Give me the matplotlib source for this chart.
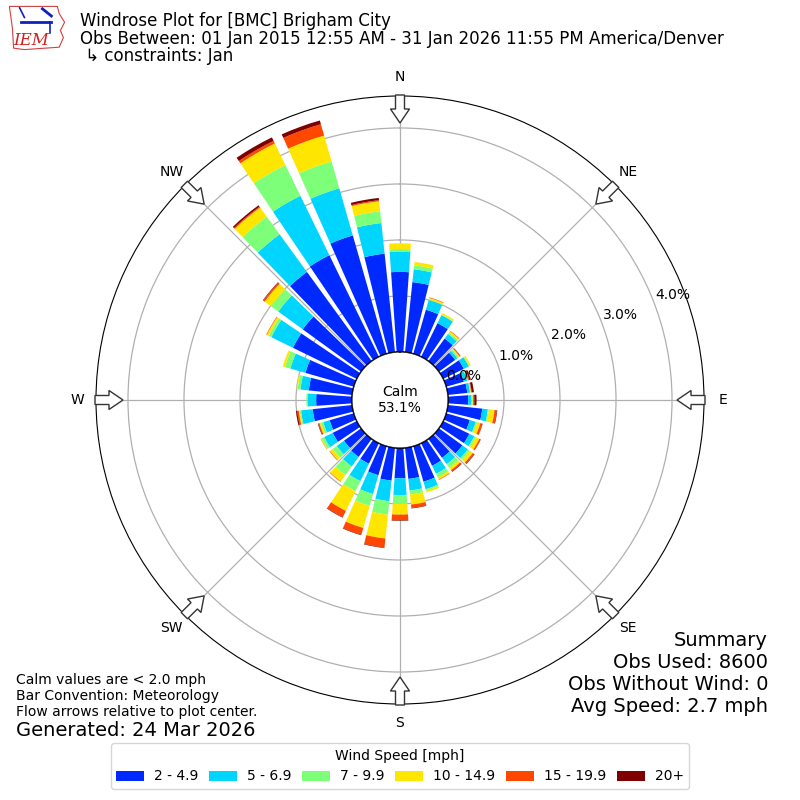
import numpy as np
import matplotlib
matplotlib.use('Agg')
import matplotlib.pyplot as plt
from matplotlib.patches import Circle, FancyArrow, Polygon, Patch

# wind direction bins (deg, meteorological) and frequency (%) per speed bin
directions = np.arange(0, 360, 10)
speed_labels = ['2 - 4.9', '5 - 6.9', '7 - 9.9', '10 - 14.9', '15 - 19.9', '20+']

s2_5 = [1.43, 1.26, 0.82, 0.67, 0.50, 0.36, 0.41, 0.33, 0.35, 0.36, 0.62, 0.44,
        0.52, 0.52, 0.42, 0.45, 0.66, 0.56, 0.54, 0.59, 0.54, 0.41, 0.40, 0.38,
        0.48, 0.45, 0.71, 0.64, 0.78, 0.90, 1.27, 1.29, 1.97, 2.02, 2.20, 1.77]
s5_7 = [0.36, 0.23, 0.18, 0.16, 0.10, 0.05, 0.10, 0.06, 0.05, 0.06, 0.10, 0.11,
        0.10, 0.12, 0.14, 0.16, 0.14, 0.21, 0.30, 0.37, 0.35, 0.345, 0.21, 0.16,
        0.17, 0.12, 0.21, 0.155, 0.15, 0.28, 0.43, 0.54, 0.83, 1.18, 0.875, 0.55]
s7_10 = [0.05, 0.07, 0.01, 0.01, 0.03, 0.03, 0.01, 0.01, 0.01, 0.02, 0.02, 0.025,
         0.03, 0.04, 0.08, 0.07, 0.03, 0.07, 0.16, 0.24, 0.22, 0.20, 0.19, 0.09,
         0.05, 0.04, 0.02, 0.02, 0.05, 0.10, 0.05, 0.16, 0.39, 0.61, 0.50, 0.21]
s10_15 = [0.10, 0.06, 0.03, 0.03, 0.03, 0.02, 0.03, 0.01, 0.01, 0.01, 0.10, 0.06,
          0.07, 0.07, 0.05, 0.04, 0.03, 0.18, 0.19, 0.43, 0.41, 0.39, 0.14, 0.06,
          0.015, 0.03, 0.02, 0.00, 0.02, 0.04, 0.04, 0.14, 0.20, 0.43, 0.48, 0.18]
s15_20 = [0.00, 0.00, 0.01, 0.00, 0.01, 0.015, 0.00, 0.02, 0.01, 0.02, 0.04, 0.04,
          0.025, 0.03, 0.03, 0.01, 0.00, 0.06, 0.10, 0.16, 0.125, 0.125, 0.01, 0.01,
          0.005, 0.02, 0.03, 0.00, 0.00, 0.00, 0.01, 0.03, 0.02, 0.05, 0.21, 0.02]
s20p = [0.00, 0.00, 0.00, 0.00, 0.00, 0.005, 0.00, 0.03, 0.04, 0.04, 0.01, 0.005,
        0.005, 0.01, 0.01, 0.00, 0.00, 0.01, 0.01, 0.01, 0.01, 0.01, 0.00, 0.00,
        0.00, 0.01, 0.02, 0.00, 0.00, 0.00, 0.00, 0.01, 0.03, 0.07, 0.07, 0.04]
series = [s2_5, s5_7, s7_10, s10_15, s15_20, s20p]

calm_pct = 53.1
rticks = [0, 1, 2, 3, 4]
cardinals = ['N', 'NE', 'E', 'SE', 'S', 'SW', 'W', 'NW']

colors = plt.cm.jet(np.arange(1, 7) / 6.0)

fig = plt.figure(figsize=(8, 8), dpi=100)
ax = fig.add_axes([0.12, 0.12, 0.76, 0.76], projection='polar')
ax.set_theta_zero_location('N')
ax.set_theta_direction(-1)

theta = np.deg2rad(directions)
width = np.deg2rad(8)
bottom = np.zeros(len(directions))
for vals, col, lab in zip(series, colors, speed_labels):
    vals = np.array(vals)
    ax.bar(theta, vals, width=width, bottom=bottom, color=col, linewidth=0,
           zorder=2, label=lab)
    bottom += vals

rmax = 4.571
ax.set_rorigin(-0.857)
ax.set_ylim(0, rmax)
ax.set_yticks(rticks)
ax.set_yticklabels([])
ax.set_thetagrids(np.arange(0, 360, 45), cardinals, fontsize=10)
ax.tick_params(axis='x', pad=3)
ax.grid(True, color='#b0b0b0', linewidth=0.9)
ax.set_axisbelow(True)

# radial labels drawn on top of the bars
for v in rticks:
    ax.text(np.deg2rad(69), v + 0.36, '%.1f%%' % v, ha='center', va='center',
            fontsize=10, zorder=8)

# calm circle
calm = Circle((0.5, 0.5), 48 / 608, transform=ax.transAxes, facecolor='white',
              edgecolor='black', linewidth=1.2, zorder=5)
ax.add_patch(calm)
ax.text(0.5, 0.5, 'Calm\n%.1f%%' % calm_pct, transform=ax.transAxes,
        ha='center', va='center', fontsize=10, zorder=6)

# flow arrows at the rim, pointing to centre
for d in np.arange(0, 360, 45):
    a = np.deg2rad(d)
    r0 = 305 / 608
    L = 28 / 608
    x0 = 0.5 + r0 * np.sin(a)
    y0 = 0.5 + r0 * np.cos(a)
    arr = FancyArrow(x0, y0, -L * np.sin(a), -L * np.cos(a), width=9 / 608,
                     head_width=19 / 608, head_length=14 / 608,
                     length_includes_head=True, transform=ax.transAxes,
                     facecolor='white', edgecolor='#333333', linewidth=1,
                     clip_on=False, zorder=7)
    ax.add_patch(arr)

# header
fig.text(0.1, 0.985, 'Windrose Plot for [BMC] Brigham City', fontsize=12, va='top')
fig.text(0.1, 0.963, 'Obs Between: 01 Jan 2015 12:55 AM - 31 Jan 2026 11:55 PM America/Denver',
         fontsize=12, va='top')
fig.text(0.1, 0.941, ' \u21b3 constraints: Jan', fontsize=12, va='top')

# logo (rough)
lax = fig.add_axes([0.008, 0.935, 0.075, 0.06])
lax.set_xlim(0, 1)
lax.set_ylim(0, 1)
lax.axis('off')
outline = [(0.05, 0.95), (0.85, 0.95), (0.88, 0.8), (0.97, 0.62), (0.9, 0.45),
           (0.95, 0.3), (0.88, 0.1), (0.3, 0.05), (0.12, 0.08), (0.1, 0.5)]
lax.add_patch(Polygon(outline, closed=True, fill=False, edgecolor='#d04040', linewidth=0.8))
lax.plot([0.25, 0.75], [0.62, 0.62], color='#1020c0', linewidth=2)
lax.plot([0.22, 0.3], [0.92, 0.72], color='#1020c0', linewidth=1.2)
lax.plot([0.6, 0.75], [0.9, 0.75], color='#1020c0', linewidth=2)
lax.plot([0.72, 0.72], [0.62, 0.4], color='#1020c0', linewidth=1.2)
lax.text(0.42, 0.24, 'IEM', color='#d02020', fontsize=12, style='italic',
         family='DejaVu Serif', ha='center', va='center')

# footer notes
fig.text(0.02, 0.15, 'Calm values are < 2.0 mph', fontsize=10, va='center')
fig.text(0.02, 0.13, 'Bar Convention: Meteorology', fontsize=10, va='center')
fig.text(0.02, 0.11, 'Flow arrows relative to plot center.', fontsize=10, va='center')
fig.text(0.02, 0.0865, 'Generated: 24 Mar 2026', fontsize=14, va='center')

fig.text(0.96, 0.2, 'Summary', fontsize=14, ha='right', va='center')
fig.text(0.96, 0.1725, 'Obs Used: 8600', fontsize=14, ha='right', va='center')
fig.text(0.96, 0.145, 'Obs Without Wind: 0', fontsize=14, ha='right', va='center')
fig.text(0.96, 0.1175, 'Avg Speed: 2.7 mph', fontsize=14, ha='right', va='center')

handles = [Patch(facecolor=c, label=l) for c, l in zip(colors, speed_labels)]
fig.legend(handles=handles, loc='lower center', bbox_to_anchor=(0.5, 0.005), ncol=6,
           title='Wind Speed [mph]', fontsize=10, title_fontsize=10,
           columnspacing=0.8, handletextpad=0.7)

fig.savefig('out.png', dpi=100)
